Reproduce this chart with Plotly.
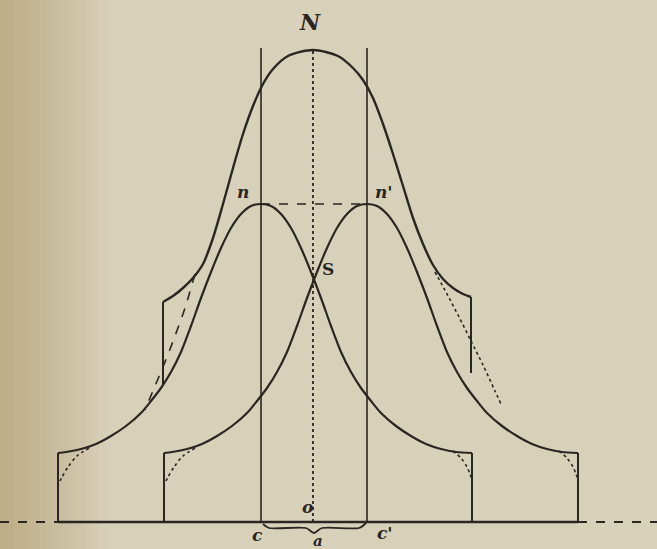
import plotly.graph_objects as go

# horizontal positions measured from the centre o (pixels of the original plate)
c_x = -52            # peak of the first component / line c
cp_x = 54            # peak of the second component / line c'
N_height = 472       # height of the summit N of the resultant curve
n_height = 318       # height of the component summits n, n'

# one component curve, offsets from its own summit, and heights
comp_u = [-203, -195, -180, -165, -150, -135, -120, -110, -100, -90, -80, -70,
          -60, -50, -40, -30, -20, -10, 0, 10, 20, 30, 40, 50, 60, 70, 80,
          90, 100, 110, 120, 135, 150, 165, 180, 195, 211]
comp_h = [69, 70, 73, 78, 86, 96, 109, 121, 134, 150, 170, 196,
          224, 250, 274, 294, 308, 316, 318, 316, 308, 294, 274, 250, 224, 196, 170,
          150, 134, 121, 109, 96, 86, 78, 73, 70, 69]

# dotted tails where a component is cut off
tail_l_u = [-172, -184, -193, -199, -203]
tail_l_h = [74, 66, 55, 45, 37]
tail_r_u = [192, 200, 206, 209, 211]
tail_r_h = [71, 64, 55, 48, 42]

# resultant (sum) curve between the two cut-off steps
sum_x = [-150, -140, -130, -120, -110, -100, -90, -80, -70, -60, -50, -40, -25, 0,
         25, 40, 50, 60, 70, 80, 90, 100, 110, 120, 130, 140, 150, 158]
sum_h = [220, 226, 234, 244, 258, 284, 318, 354, 388, 416, 438, 453, 466, 472,
         466, 454, 442, 424, 398, 368, 336, 304, 278, 257, 243, 234, 228, 225]

# dashed continuation of the resultant onto the components
dash_l_x = [-118, -128, -138, -148, -158, -168]
dash_l_h = [248, 214, 186, 160, 136, 112]
dash_r_x = [122, 134, 146, 158, 170, 182, 188]
dash_r_h = [250, 228, 205, 181, 157, 131, 118]

labels = ["N", "n", "n'", "S", "o", "c", "c'", "a"]
label_x = [-3, -70, 71, 15, -6, -56, 72, 5]
label_y = [500, 330, 330, 253, 15, -13, -11, -19]

INK = "#2a2622"
PAPER = "#d8d1ba"

fig = go.Figure()


def line(x, y, width=2, dash=None, shape="spline"):
    fig.add_trace(go.Scatter(
        x=x, y=y, mode="lines", hoverinfo="skip",
        line=dict(color=INK, width=width, dash=dash, shape=shape, smoothing=0.8),
    ))


# two component curves with their vertical ends
for peak in (c_x, cp_x):
    xs = [peak + u for u in comp_u]
    line([xs[0], xs[0]], [0, comp_h[0]], shape="linear")
    line([xs[-1], xs[-1]], [0, comp_h[-1]], shape="linear")
    line(xs, comp_h, width=2.2)
    line([peak + u for u in tail_l_u], tail_l_h, width=1.6, dash="dot")
    line([peak + u for u in tail_r_u], tail_r_h, width=1.6, dash="dot")

# resultant curve with its two steps down onto the components
line(sum_x, sum_h, width=2.4)
left_foot = comp_h[comp_u.index(-100)] + 3
right_foot = comp_h[comp_u.index(100)] + 15
line([sum_x[0], sum_x[0]], [sum_h[0], left_foot], shape="linear")
line([sum_x[-1], sum_x[-1]], [sum_h[-1], right_foot], shape="linear")
line(dash_l_x, dash_l_h, width=1.6, dash="dash")
line(dash_r_x, dash_r_h, width=1.6, dash="dot")

# verticals c, c' and the dotted ordinate N-o, dotted n-n'
line([c_x, c_x], [0, N_height + 2], width=1.6, shape="linear")
line([cp_x, cp_x], [0, N_height + 2], width=1.6, shape="linear")
line([0, 0], [0, N_height], width=1.8, dash="dot", shape="linear")
line([c_x, cp_x], [n_height, n_height], width=1.6, dash="dash", shape="linear")

# base line, solid under the figure, dashed beyond
x_lo = c_x + comp_u[0]
x_hi = cp_x + comp_u[-1]
line([x_lo, x_hi], [0, 0], width=2.4, shape="linear")
line([-313, x_lo], [0, 0], width=1.8, dash="dash", shape="linear")
line([x_hi, 344], [0, 0], width=1.8, dash="dash", shape="linear")

# brace a under c-c'
mid = (c_x + cp_x) / 2
line([c_x + 2, c_x + 8, mid - 8, mid, mid + 8, cp_x - 8, cp_x - 1],
     [-2, -6, -6, -11, -6, -6, -1], width=1.8)

for t, x, y in zip(labels, label_x, label_y):
    upright = t == "S"
    text = f"<b>{t}</b>" if upright else f"<b><i>{t}</i></b>"
    fig.add_annotation(
        x=x, y=y, text=text, showarrow=False,
        font=dict(family="DejaVu Serif", size=22 if t == "N" else (15 if t == "a" else 17),
                  color=INK),
        xanchor="center", yanchor="middle",
    )

# darker, yellowed left margin of the page
shapes = []
for i in range(16):
    shapes.append(dict(type="rect", xref="paper", yref="paper",
                       x0=0, x1=0.01 * (i + 1), y0=0, y1=1,
                       fillcolor="#b89a5c", opacity=0.035, line_width=0, layer="below"))

fig.update_layout(
    width=657, height=549,
    margin=dict(l=0, r=0, t=0, b=0),
    paper_bgcolor=PAPER, plot_bgcolor=PAPER,
    showlegend=False,
    shapes=shapes,
    xaxis=dict(range=[-313, 344], visible=False, fixedrange=True),
    yaxis=dict(range=[-27, 522], visible=False, fixedrange=True),
)

fig.write_html("out.html", config={"displayModeBar": False},
               post_script="document.body.style.margin='0';")
